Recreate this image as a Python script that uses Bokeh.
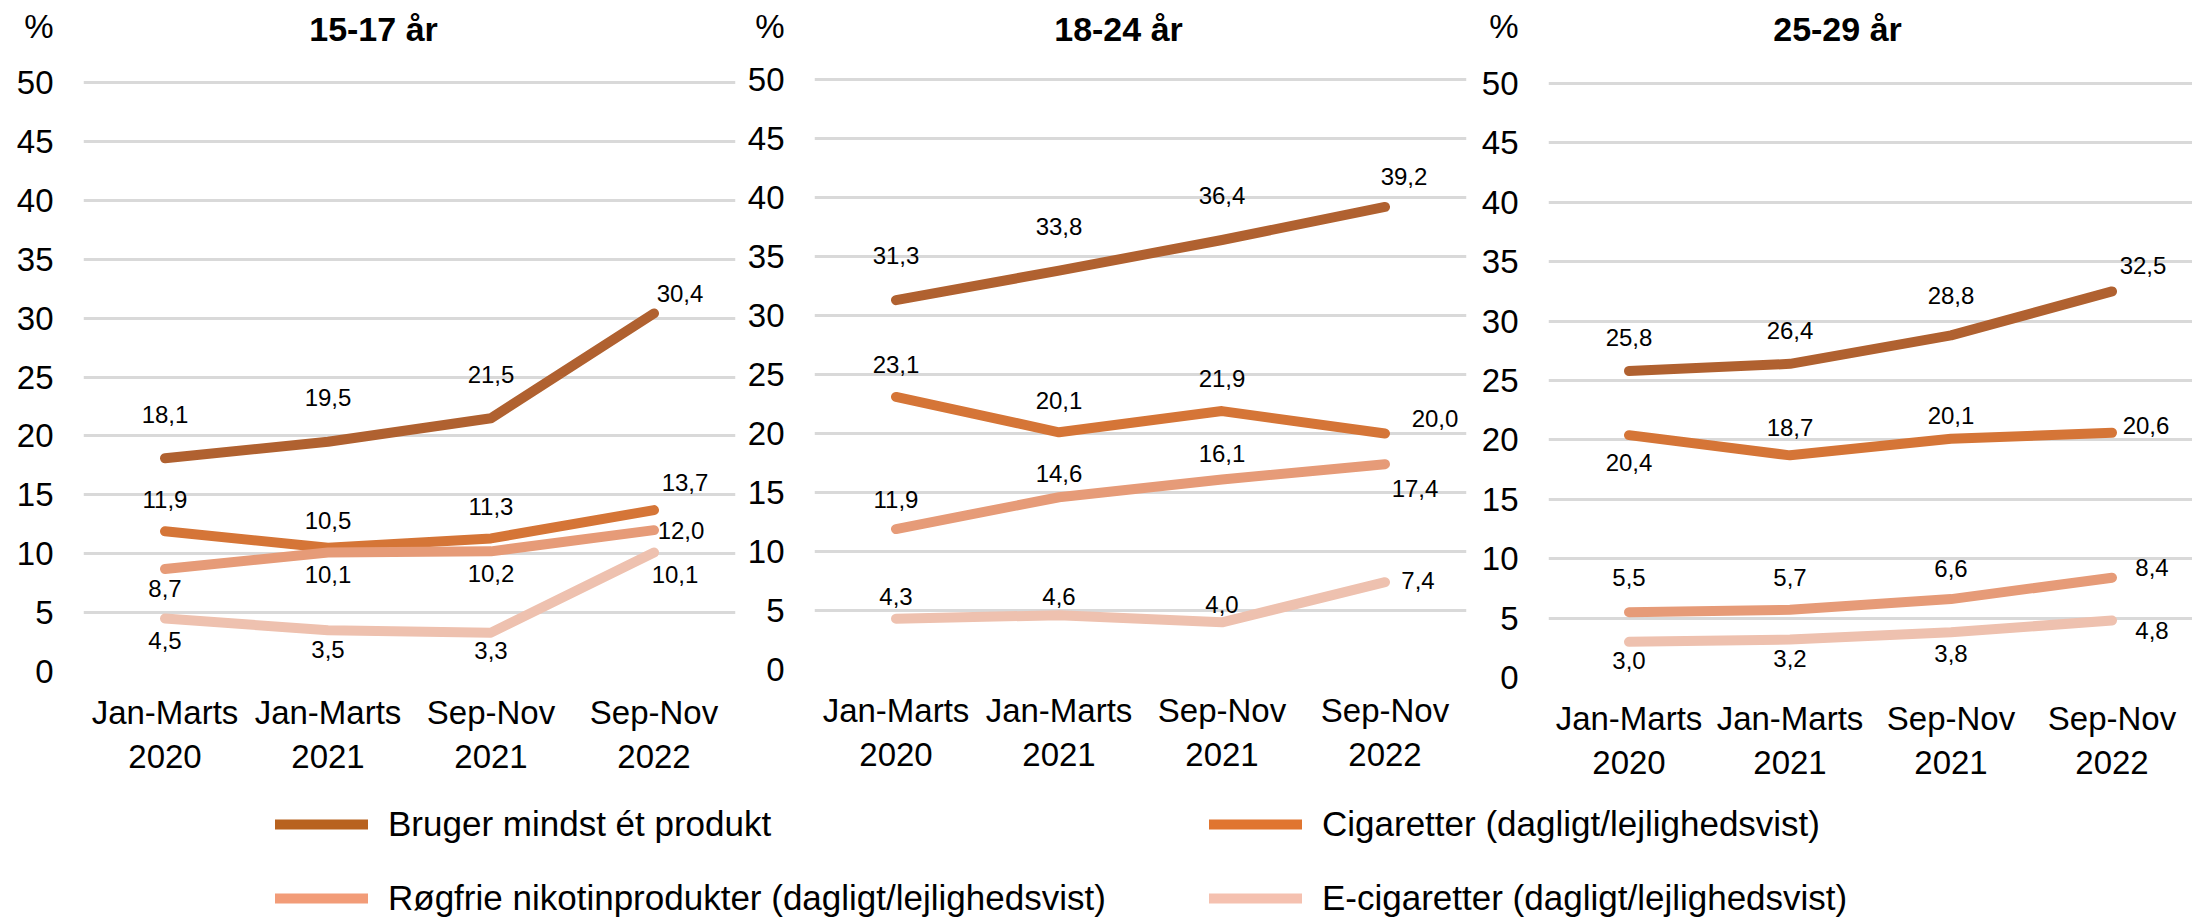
from bokeh.plotting import figure
from bokeh.models import (ColumnDataSource, FactorRange, Range1d, FixedTicker,
                          LabelSet, Label, Legend, LegendItem)
from bokeh.layouts import row, column
from bokeh.core.properties import value
from bokeh.embed import file_html
from bokeh.resources import INLINE

# ---------------- data ----------------
categories = ["Jan-Marts\n2020", "Jan-Marts\n2021", "Sep-Nov\n2021", "Sep-Nov\n2022"]
panel_titles = ["15-17 år", "18-24 år", "25-29 år"]
series_names = ["Bruger mindst ét produkt",
                "Cigaretter (dagligt/lejlighedsvist)",
                "Røgfrie nikotinprodukter (dagligt/lejlighedsvist)",
                "E-cigaretter (dagligt/lejlighedsvist)"]

bruger = [[18.1, 19.5, 21.5, 30.4], [31.3, 33.8, 36.4, 39.2], [25.8, 26.4, 28.8, 32.5]]
cigaretter = [[11.9, 10.5, 11.3, 13.7], [23.1, 20.1, 21.9, 20.0], [20.4, 18.7, 20.1, 20.6]]
roegfrie = [[8.7, 10.1, 10.2, 12.0], [11.9, 14.6, 16.1, 17.4], [5.5, 5.7, 6.6, 8.4]]
ecigaretter = [[4.5, 3.5, 3.3, 10.1], [4.3, 4.6, 4.0, 7.4], [3.0, 3.2, 3.8, 4.8]]
y_ticks = [0, 5, 10, 15, 20, 25, 30, 35, 40, 45, 50]
unit_label = "%"

# ---------------- styles ----------------
colors = ["#B06130", "#D57537", "#E69B78", "#EEC1AF"]
legend_colors = ["#B8621F", "#E07530", "#F29C78", "#F5C1B0"]
FONT_NAME = "Liberation Sans"
FONT = value(FONT_NAME)

# label offsets (dx, dy) in px per panel / series / point
label_offsets = [
    [[(0, 44), (0, 44), (0, 44), (26, 20)],
     [(0, 32), (0, 27), (0, 32), (31, 28)],
     [(0, -19), (0, -22), (0, -22), (27, 0)],
     [(0, -22), (0, -19), (0, -18), (21, -22)]],
    [[(0, 45), (0, 44), (0, 44), (19, 30)],
     [(0, 32), (0, 32), (0, 33), (50, 15)],
     [(0, 30), (0, 24), (0, 26), (30, -24)],
     [(0, 22), (0, 19), (0, 18), (33, 2)]],
    [[(0, 33), (0, 33), (0, 40), (31, 26)],
     [(0, -27), (0, 28), (0, 23), (34, 7)],
     [(0, 35), (0, 32), (0, 31), (40, 10)],
     [(0, -19), (0, -19), (0, -21), (40, -10)]],
]

# panel geometry (page px): border left, frame width, border right,
# y of value 50, y of value 0, title offset from frame left, position of the unit label
ROW_BOTTOM = 800
geom = [
    dict(bl=83, fw=652, br=5, y50=82, y0=671, title_dx=290, pct_val=54.75),
    dict(bl=74, fw=652, br=4, y50=79, y0=669, title_dx=304, pct_val=54.5),
    dict(bl=78, fw=644, br=0, y50=83, y0=677, title_dx=289, pct_val=54.8),
]

all_series = [bruger, cigaretter, roegfrie, ecigaretter]


def fmt(v):
    return f"{v:.1f}".replace(".", ",")


figs = []
for i, g in enumerate(geom):
    px50 = g["y0"] - g["y50"]
    fh = g["y0"]
    ytop = 50.0 * fh / px50
    bb = ROW_BOTTOM - g["y0"]
    p = figure(frame_width=g["fw"], frame_height=fh,
               x_range=FactorRange(factors=categories, range_padding=0),
               y_range=Range1d(0, ytop),
               toolbar_location=None, output_backend="svg",
               min_border_left=g["bl"], min_border_right=g["br"],
               min_border_top=0, min_border_bottom=bb)
    p.outline_line_color = None
    p.xgrid.grid_line_color = None
    p.ygrid.ticker = FixedTicker(ticks=y_ticks)
    p.ygrid.grid_line_color = "#D9D9D9"
    p.ygrid.grid_line_width = 3
    p.yaxis.ticker = FixedTicker(ticks=y_ticks + [g["pct_val"]])
    p.yaxis.major_label_overrides = {g["pct_val"]: unit_label}
    for ax in (p.xaxis[0], p.yaxis[0]):
        ax.axis_line_color = None
        ax.major_tick_line_color = None
        ax.minor_tick_line_color = None
        ax.major_tick_out = 0
        ax.major_tick_in = 0
        ax.axis_label_standoff = 0
        ax.major_label_text_font = FONT_NAME
        ax.major_label_text_font_size = "33px"
        ax.major_label_text_color = "#000000"
    p.yaxis.major_label_standoff = 30
    p.xaxis.major_label_standoff = 22

    for s, series in enumerate(all_series):
        vals = series[i]
        p.line(x=categories, y=vals, line_color=colors[s], line_width=10,
               line_cap="round", line_join="round")
    for s, series in enumerate(all_series):
        vals = series[i]
        offs = label_offsets[i][s]
        src = ColumnDataSource(dict(x=categories, y=vals,
                                    text=[fmt(v) for v in vals],
                                    dx=[o[0] for o in offs],
                                    dy=[o[1] for o in offs]))
        p.add_layout(LabelSet(x="x", y="y", text="text", source=src,
                              x_offset="dx", y_offset="dy",
                              text_align="center", text_baseline="middle",
                              text_font=FONT, text_font_size="24px",
                              text_color="#000000"))
    p.add_layout(Label(x=0, y=50, x_offset=g["title_dx"], y_offset=g["y50"] - 28,
                       text=panel_titles[i], text_align="center", text_baseline="middle",
                       text_font=FONT_NAME, text_font_size="34px", text_font_style="bold",
                       text_color="#000000"))
    figs.append(p)

# ---------------- legend ----------------
LEG_H = 918 - ROW_BOTTOM
leg = figure(width=2192, height=LEG_H, x_range=Range1d(0, 1), y_range=Range1d(0, 1),
             toolbar_location=None, output_backend="svg", min_border=0,
             x_axis_location=None, y_axis_location=None)
leg.grid.visible = False
leg.outline_line_color = None
items = []
for name, col in zip(series_names, legend_colors):
    # placeholder geometry kept outside the visible range: only the legend swatch shows
    r = leg.line(x=[-3, -2], y=[-3, -3], line_color=col, line_width=10, line_cap="round")
    items.append(LegendItem(label=name, renderers=[r]))
legend = Legend(items=items, ncols=2, orientation="horizontal", location=(275, 0),
                glyph_width=93, glyph_height=40, label_height=40, label_width=787,
                label_standoff=20, spacing=34, padding=0, margin=0,
                border_line_color=None, background_fill_alpha=0,
                label_text_font=FONT_NAME, label_text_font_size="35px",
                label_text_color="#000000")
leg.add_layout(legend)

layout = column(row(*figs), leg)
open("out.html", "w").write(file_html(layout, INLINE))
